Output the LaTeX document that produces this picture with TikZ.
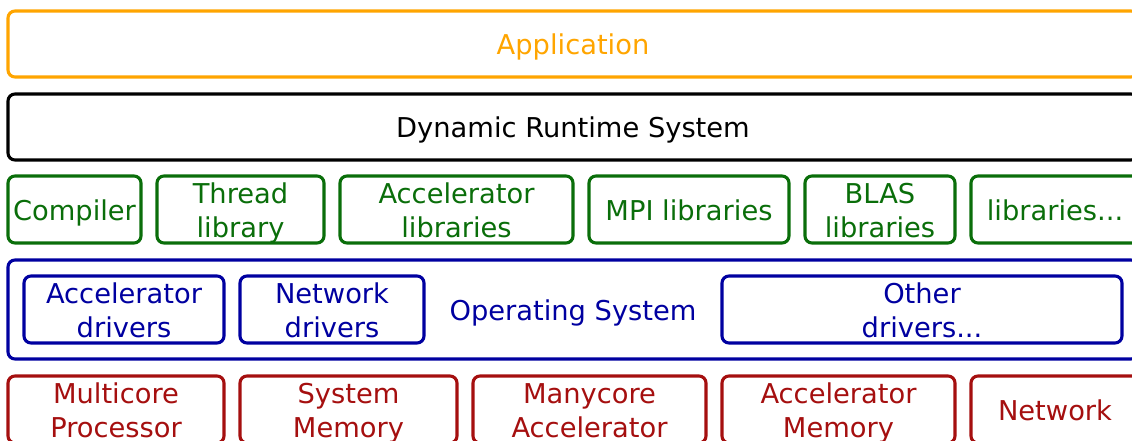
\documentclass[tikz,border=0pt]{standalone}
\usepackage{fontspec}
\setmainfont{DejaVu Sans}
\definecolor{appc}{RGB}{255,165,0}
\definecolor{libc}{RGB}{10,110,10}
\definecolor{osc}{RGB}{0,0,160}
\definecolor{hwc}{RGB}{165,15,15}
\newcommand\lst{\rule[-6pt]{0pt}{33pt}}
\tikzset{
  box/.style={draw, rounded corners=7pt, line width=3.1pt, inner sep=0pt, outer sep=0pt,
    align=center, font=\fontsize{27.3}{34}\selectfont},
  app/.style={box, draw=appc, text=appc},
  rts/.style={box, draw=black, text=black},
  lib/.style={box, draw=libc, text=libc},
  os/.style={box, draw=osc, text=osc},
  hw/.style={box, draw=hwc, text=hwc},
}
\begin{document}
\begin{tikzpicture}[x=1pt,y=-1pt]
\useasboundingbox (0,0) rectangle (1132,440);
\clip (0,0) rectangle (1132,440);
\node[app, minimum width=1130pt, minimum height=66pt] (app) at (573,44) {\lst Application};
\node[rts, minimum width=1130pt, minimum height=66pt] (drs) at (573,127) {\lst Dynamic Runtime System};
% libraries
\node[lib, minimum width=133pt, minimum height=67pt] (comp) at (74.5,209.5) {\lst Compiler};
\node[lib, minimum width=167pt, minimum height=67pt] (thr) at (240.5,209.5) {\lst Thread\\\lst library};
\node[lib, minimum width=233pt, minimum height=67pt] (accl) at (456.5,209.5) {\lst Accelerator\\\lst libraries};
\node[lib, minimum width=200pt, minimum height=67pt] (mpi) at (689,209.5) {\lst MPI libraries};
\node[lib, minimum width=150pt, minimum height=67pt] (blas) at (880,209.5) {\lst BLAS\\\lst libraries};
\node[lib, minimum width=168pt, minimum height=67pt] (more) at (1055,209.5) {\lst libraries...};
% operating system
\node[os, minimum width=1130pt, minimum height=99pt] (osys) at (573,309.5) {\lst Operating System};
\node[os, minimum width=200pt, minimum height=67pt] (accd) at (124,309.5) {\lst Accelerator\\\lst drivers};
\node[os, minimum width=184pt, minimum height=67pt] (netd) at (332,309.5) {\lst Network\\\lst drivers};
\node[os, minimum width=400pt, minimum height=67pt] (othd) at (922,309.5) {\lst Other\\\lst drivers...};
% hardware
\node[hw, minimum width=216pt, minimum height=67pt] (mcp) at (116,409.5) {\lst Multicore\\\lst Processor};
\node[hw, minimum width=217pt, minimum height=67pt] (smem) at (348.5,409.5) {\lst System\\\lst Memory};
\node[hw, minimum width=233pt, minimum height=67pt] (mca) at (589.5,409.5) {\lst Manycore\\\lst Accelerator};
\node[hw, minimum width=233pt, minimum height=67pt] (amem) at (838.5,409.5) {\lst Accelerator\\\lst Memory};
\node[hw, minimum width=168pt, minimum height=67pt] (net) at (1055,409.5) {\lst Network};
\end{tikzpicture}
\end{document}
